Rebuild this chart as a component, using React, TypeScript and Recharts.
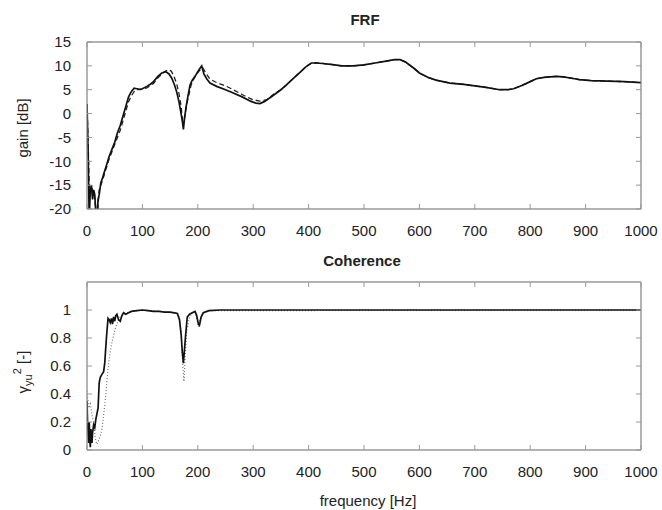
import { LineChart, Line, XAxis, YAxis, ReferenceArea } from 'recharts'

const freqTicks = [0, 100, 200, 300, 400, 500, 600, 700, 800, 900, 1000]
const gainTicks = [-20, -15, -10, -5, 0, 5, 10, 15]
const cohTicks = [0, 0.2, 0.4, 0.6, 0.8, 1]

// FRF, solid line
const gainFreq = [
  0, 2, 4, 6, 8, 10, 12, 14, 16, 18, 20, 22, 25, 28, 32, 36, 40, 45, 50, 55, 60, 65, 70, 75, 80, 85, 90,
  95, 100, 108, 115, 120, 128, 135, 142, 148, 153, 158, 162, 166, 169, 172, 174, 176, 179, 182, 186, 190,
  195, 200, 204, 207, 211, 216, 222, 234, 250, 264, 280, 295, 305, 312, 320, 336, 350, 360, 372, 384, 395,
  405, 415, 425, 440, 460, 480, 500, 520, 540, 555, 565, 575, 590, 600, 615, 630, 655, 680, 700, 720, 745,
  760, 770, 785, 800, 811, 825, 847, 860, 875, 889, 910, 940, 970, 1000,
]
const gainMeasured = [
  2, -8, -22, -16, -15, -18, -16, -17, -21, -22, -18, -17, -14.5, -13.5, -12, -10.5, -9, -7.5, -6, -4, -2.5,
  -0.5, 1.5, 3.5, 4.6, 5.3, 5.2, 5.1, 5.2, 5.7, 6.2, 6.7, 7.8, 8.5, 8.8, 8.3, 7.4, 6, 4.5, 2.5, 0.5, -1.5,
  -3.3, -1, 1.5, 3.5, 6, 7, 7.8, 8.8, 9.5, 10, 8.3, 7.3, 6.4, 5.7, 5, 4.3, 3.5, 2.6, 2.2, 2.1, 2.5, 3.8, 5,
  6, 7.3, 8.6, 9.8, 10.6, 10.6, 10.5, 10.3, 10, 10, 10.2, 10.6, 11, 11.3, 11.3, 10.8, 9.5, 8.5, 7.6, 7, 6.4,
  6.1, 5.8, 5.5, 5.0, 5.0, 5.2, 5.9, 6.7, 7.3, 7.6, 7.8, 7.7, 7.4, 7.1, 6.9, 6.8, 6.7, 6.5,
]

// FRF, dashed line (above 336 Hz it follows the solid one)
const modelFreq = [
  0, 2, 4, 6, 8, 10, 13, 16, 19, 22, 25, 28, 32, 36, 40, 45, 50, 55, 60, 65, 70, 75, 80, 85, 90, 95, 100,
  108, 115, 120, 128, 135, 142, 147, 152, 157, 162, 166, 170, 173, 176, 180, 184, 188, 193, 198, 203, 209,
  214, 222, 234, 250, 264, 280, 290, 300, 312, 325, 336,
]
const modelGain = [
  2, -6, -15, -16, -15.5, -16, -17, -20, -21, -16, -15, -14, -12.5, -11, -9.5, -8, -6.5, -5, -3.5, -1.5, 0.5,
  2.5, 3.7, 4.6, 5, 5, 5.1, 5.4, 5.9, 6.3, 7.5, 8.3, 8.9, 9.2, 8.9, 7.8, 6.2, 4.2, 1.5, -2.5, -1, 2, 4, 6,
  7.3, 8.3, 9, 9.6, 8.6, 7.2, 6.5, 5.8, 5.0, 4.0, 3.4, 2.9, 2.6, 2.9, 4.0,
]

// Coherence, solid line
const cohFreq = [
  0, 1, 2, 3, 4, 5, 6, 7, 8, 9, 10, 12, 14, 16, 18, 20, 22, 24, 27, 30, 32, 34, 36, 38, 40, 42, 44, 46, 48,
  50, 52, 54, 57, 60, 63, 66, 70, 75, 80, 90, 100, 110, 120, 130, 140, 150, 158, 163, 167, 170, 172, 174,
  176, 178, 181, 185, 190, 195, 198, 201, 203, 206, 210, 220, 240, 300, 400, 500, 600, 700, 800, 900, 1000,
]
const cohMeasured = [
  0.35, 0.2, 0.12, 0.05, 0.2, 0.08, 0.02, 0.15, 0.1, 0.05, 0.12, 0.18, 0.16, 0.22, 0.26, 0.3, 0.48, 0.52,
  0.54, 0.56, 0.62, 0.74, 0.85, 0.94, 0.93, 0.91, 0.94, 0.9, 0.95, 0.92, 0.96, 0.97, 0.93, 0.92, 0.96, 0.98,
  0.97, 0.98, 0.99, 0.995, 1.0, 0.995, 0.99, 0.99, 0.985, 0.985, 0.98, 0.975, 0.93, 0.82, 0.7, 0.62, 0.72,
  0.82, 0.95, 0.97, 0.98, 0.99, 0.96, 0.9, 0.89, 0.95, 0.98, 0.995, 1.0, 1.0, 1.0, 1.0, 1.0, 1.0, 1.0, 1.0,
  1.0,
]

// Coherence, dotted line
const cohModelFreq = [
  0, 3, 6, 9, 12, 15, 18, 21, 24, 27, 30, 33, 36, 40, 44, 48, 52, 56, 60, 66, 72, 80, 90, 100, 150, 165, 170,
  173, 175, 177, 180, 185, 190, 196, 201, 205, 210, 220, 1000,
]
const cohModel = [
  0.42, 0.3, 0.33, 0.25, 0.2, 0.08, 0.04, 0.07, 0.1, 0.15, 0.25, 0.35, 0.5, 0.65, 0.75, 0.82, 0.88, 0.92,
  0.95, 0.97, 0.98, 0.99, 0.995, 1.0, 0.985, 0.97, 0.85, 0.6, 0.49, 0.65, 0.85, 0.95, 0.98, 0.98, 0.88, 0.95,
  0.98, 0.995, 1.0,
]

const zip = (xs: number[], ys: number[]) => xs.map((f, i) => ({ f, v: ys[i] }))

const gainSolid = zip(gainFreq, gainMeasured)
const gainDashed = zip(modelFreq, modelGain).concat(gainSolid.filter((p) => p.f > 336))
const cohSolid = zip(cohFreq, cohMeasured)
const cohDotted = zip(cohModelFreq, cohModel)

const FONT = '"Liberation Sans", Arial, sans-serif'
const FRAME = '#999'
const tickStyle = { fill: '#222', fontSize: 15, fontFamily: FONT }
const lineStyle = { stroke: FRAME, strokeWidth: 1 }
const blank = () => ''

function Frame({ yDomain, yTicks }: { yDomain: number[]; yTicks: number[] }) {
  return [
    <XAxis
      key="xb"
      xAxisId="b"
      type="number"
      dataKey="f"
      domain={[0, 1000]}
      ticks={freqTicks}
      interval={0}
      height={30}
      tickSize={-5}
      tickMargin={21}
      axisLine={lineStyle}
      tickLine={lineStyle}
      tick={tickStyle}
      allowDataOverflow
    />,
    <XAxis
      key="xt"
      xAxisId="t"
      orientation="top"
      type="number"
      dataKey="f"
      domain={[0, 1000]}
      ticks={freqTicks}
      interval={0}
      height={1}
      tickSize={-5}
      axisLine={lineStyle}
      tickLine={lineStyle}
      tickFormatter={blank}
      allowDataOverflow
    />,
    <YAxis
      key="yl"
      yAxisId="l"
      type="number"
      domain={yDomain}
      ticks={yTicks}
      interval={0}
      width={60}
      tickSize={-5}
      tickMargin={21}
      axisLine={lineStyle}
      tickLine={lineStyle}
      tick={tickStyle}
      allowDataOverflow
    />,
    <YAxis
      key="yr"
      yAxisId="r"
      orientation="right"
      type="number"
      domain={yDomain}
      ticks={yTicks}
      interval={0}
      width={1}
      tickSize={-5}
      axisLine={lineStyle}
      tickLine={lineStyle}
      tickFormatter={blank}
      allowDataOverflow
    />,
    <ReferenceArea
      key="box"
      xAxisId="b"
      yAxisId="l"
      x1={0}
      x2={1000}
      y1={yDomain[0]}
      y2={yDomain[1]}
      fill="none"
      stroke={FRAME}
      strokeWidth={1}
      fillOpacity={0}
      ifOverflow="visible"
    />,
  ]
}

export default function App() {
  return (
    <div style={{ position: 'absolute', left: 0, top: 0, width: 662, height: 510, background: '#fff' }}>
      <div style={{ position: 'absolute', left: 0, top: 0 }}>
        <LineChart width={662} height={250} margin={{ top: 41, left: 27, right: 20, bottom: 11 }}>
          {Frame({ yDomain: [-20, 15], yTicks: gainTicks })}
          <Line
            data={gainDashed}
            xAxisId="b"
            yAxisId="l"
            dataKey="v"
            stroke="#222"
            strokeWidth={1.3}
            strokeDasharray="5 3"
            dot={false}
            isAnimationActive={false}
          />
          <Line
            data={gainSolid}
            xAxisId="b"
            yAxisId="l"
            dataKey="v"
            stroke="#111"
            strokeWidth={1.7}
            dot={false}
            isAnimationActive={false}
          />
        </LineChart>
      </div>
      <div style={{ position: 'absolute', left: 0, top: 250 }}>
        <LineChart width={662} height={260} margin={{ top: 31, left: 27, right: 20, bottom: 30 }}>
          {Frame({ yDomain: [0, 1.2], yTicks: cohTicks })}
          <Line
            data={cohDotted}
            xAxisId="b"
            yAxisId="l"
            dataKey="v"
            stroke="#777"
            strokeWidth={1.2}
            strokeDasharray="1 2"
            dot={false}
            isAnimationActive={false}
          />
          <Line
            data={cohSolid}
            xAxisId="b"
            yAxisId="l"
            dataKey="v"
            stroke="#111"
            strokeWidth={1.7}
            dot={false}
            isAnimationActive={false}
          />
        </LineChart>
      </div>
      <svg
        width={662}
        height={510}
        style={{ position: 'absolute', left: 0, top: 0, pointerEvents: 'none' }}
        fontFamily={FONT}
        fill="#222"
      >
        <text x={365} y={25} textAnchor="middle" fontSize={15} fontWeight="bold">
          FRF
        </text>
        <text x={362} y={266} textAnchor="middle" fontSize={15} fontWeight="bold">
          Coherence
        </text>
        <text x={368} y={506} textAnchor="middle" fontSize={15}>
          frequency [Hz]
        </text>
        <text x={28} y={128} textAnchor="middle" fontSize={15} transform="rotate(-90, 28, 128)">
          gain [dB]
        </text>
        <text x={28} y={372} textAnchor="middle" fontSize={15} transform="rotate(-90, 28, 372)">
          γ<tspan fontSize={11} dy={4}>yu</tspan>
          <tspan fontSize={11} dy={-11}>2</tspan>
          <tspan dy={7}> [-]</tspan>
        </text>
      </svg>
    </div>
  )
}
